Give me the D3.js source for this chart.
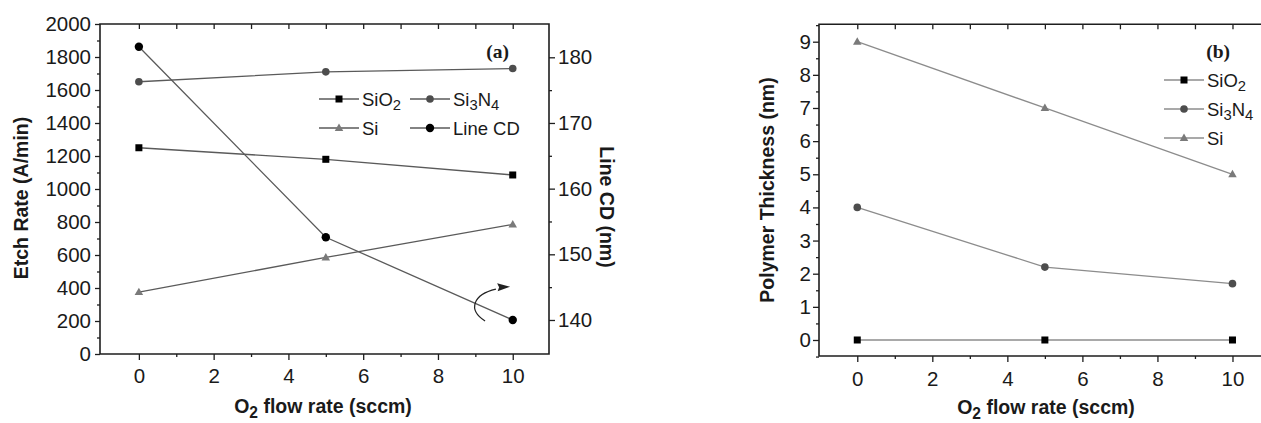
<!DOCTYPE html>
<html><head><meta charset="utf-8">
<script src="https://cdn.jsdelivr.net/npm/d3@7"></script>
<style>
body{margin:0;background:#fff}
svg{display:block}
text{font-family:"Liberation Sans",Arial,Helvetica,sans-serif;fill:#1a1a1a}
</style>
</head><body>
<svg id="chart" width="1261" height="423"></svg>
<script>
// O2 flow rate (sccm) at each measured point
const flow = [0, 5, 10];
// (a) etch rate, A/min
const etchSiO2 = [1250, 1180, 1085];
const etchSi3N4 = [1650, 1710, 1730];
const etchSi = [375, 585, 785];
// (a) line critical dimension, nm
const lineCD = [181.6, 152.6, 140];
// (b) polymer thickness, nm
const polySiO2 = [0, 0, 0];
const polySi3N4 = [4, 2.2, 1.7];
const polySi = [9, 7, 5];
// tick values
const flowTicks = [0, 2, 4, 6, 8, 10];
const flowMinor = [1, 3, 5, 7, 9];
const flowTop = d3.range(0, 11);
const etchTicks = d3.range(0, 2001, 200);
const etchMinor = d3.range(100, 2000, 200);
const cdTicks = [140, 150, 160, 170, 180];
const cdMinor = [145, 155, 165, 175];
const thickTicks = d3.range(0, 10);
const thickMinor = d3.range(-0.5, 9.6, 1);

const svg = d3.select("#chart");
const AX = "#1e1e1e";
const TICK_FONT = 20.5;

function rich(sel, parts, size) {
  let down = false;
  parts.forEach(p => {
    const ts = sel.append("tspan").text(p.t);
    if (p.sub) {
      ts.attr("font-size", size * 0.8).attr("dy", down ? 0 : size * 0.27);
      down = true;
    } else {
      ts.attr("dy", down ? -size * 0.27 : 0);
      down = false;
    }
  });
}

function styleAxis(g) {
  g.select(".domain").remove();
  g.selectAll("line").attr("stroke", AX).attr("stroke-width", 1.3);
  g.selectAll("text").attr("font-size", TICK_FONT).attr("fill", "#1a1a1a")
    .style("font-family", '"Liberation Sans",Arial,sans-serif');
}

function marker(g, type, cx, cy, fill) {
  if (type === "square") {
    g.append("rect").attr("x", cx - 3.5).attr("y", cy - 3.5).attr("width", 7).attr("height", 7).attr("fill", fill);
  } else if (type === "circle") {
    g.append("circle").attr("cx", cx).attr("cy", cy).attr("r", 3.8).attr("fill", fill);
  } else if (type === "bigcircle") {
    g.append("circle").attr("cx", cx).attr("cy", cy).attr("r", 4.2).attr("fill", fill);
  } else {
    const s = 8.5, h = s * 0.87;
    g.append("path").attr("d", `M${cx},${cy - h * 0.6}L${cx + s / 2},${cy + h * 0.4}L${cx - s / 2},${cy + h * 0.4}Z`).attr("fill", fill);
  }
}

function series(g, xs, ys, sx, sy, type, lineColor, fill) {
  const line = d3.line().x((d, i) => sx(xs[i])).y(d => sy(d));
  g.append("path").attr("d", line(ys)).attr("fill", "none").attr("stroke", lineColor).attr("stroke-width", 1.3);
  ys.forEach((v, i) => marker(g, type, sx(xs[i]), sy(v), fill));
}

function legendRow(g, x, y, type, lineColor, fill, parts, size) {
  g.append("line").attr("x1", x).attr("x2", x + 40).attr("y1", y).attr("y2", y).attr("stroke", lineColor).attr("stroke-width", 1.3);
  marker(g, type, x + 20, y, fill);
  const t = g.append("text").attr("x", x + 43).attr("y", y + 6.5).attr("font-size", size);
  rich(t, parts, size);
}

function frame(g, L, R, T, B) {
  g.append("path").attr("d", `M${L},${T}H${R}V${B}H${L}Z`).attr("fill", "none").attr("stroke", AX).attr("stroke-width", 1.6);
}

function xTitle(g, cx, y) {
  const t = g.append("text").attr("x", cx).attr("y", y).attr("text-anchor", "middle")
    .attr("font-size", 19.5).attr("font-weight", "bold");
  rich(t, [{t: "O"}, {t: "2", sub: true}, {t: " flow rate (sccm)"}], 19.5);
}

function yTitle(g, cx, cy, angle, str) {
  g.append("text").attr("transform", `translate(${cx},${cy}) rotate(${angle})`)
    .attr("text-anchor", "middle").attr("dy", "0.36em")
    .attr("font-size", 19.5).attr("font-weight", "bold").text(str);
}

// ---------- (a) Etch rate and line CD ----------
{
  const L = 100, R = 549, T = 24, B = 354;
  const x = d3.scaleLinear().domain([-1.04, 10.97]).range([L, R]);
  const y = d3.scaleLinear().domain([0, 2000]).range([B, T]);
  const y2 = d3.scaleLinear().domain([134.82, 185.07]).range([B, T]);
  const g = svg.append("g");

  g.append("g").attr("transform", `translate(0,${B})`)
    .call(d3.axisBottom(x).tickValues(flowTicks).tickSize(6).tickPadding(8).tickFormat(d3.format("d"))).call(styleAxis);
  g.append("g").attr("transform", `translate(0,${B})`)
    .call(d3.axisBottom(x).tickValues(flowMinor).tickSize(3).tickFormat("")).call(styleAxis);
  g.append("g").attr("transform", `translate(0,${T})`)
    .call(d3.axisTop(x).tickValues(flowTop).tickSize(-5).tickFormat("")).call(styleAxis);
  g.append("g").attr("transform", `translate(${L},0)`)
    .call(d3.axisLeft(y).tickValues(etchTicks).tickSize(5).tickPadding(4).tickFormat(d3.format("d"))).call(styleAxis);
  g.append("g").attr("transform", `translate(${L},0)`)
    .call(d3.axisLeft(y).tickValues(etchMinor).tickSize(3).tickFormat("")).call(styleAxis);
  g.append("g").attr("transform", `translate(${R},0)`)
    .call(d3.axisRight(y2).tickValues(cdTicks).tickSize(6).tickPadding(3).tickFormat(d3.format("d"))).call(styleAxis);
  g.append("g").attr("transform", `translate(${R},0)`)
    .call(d3.axisRight(y2).tickValues(cdMinor).tickSize(3).tickFormat("")).call(styleAxis);
  frame(g, L, R, T, B);

  const lc = "#5a5a5a";
  series(g, flow, etchSiO2, x, y, "square", lc, "#000");
  series(g, flow, etchSi3N4, x, y, "circle", lc, "#4d4d4d");
  series(g, flow, etchSi, x, y, "triangle", lc, "#7a7a7a");
  series(g, flow, lineCD, x, y2, "bigcircle", lc, "#000");

  // curved arrow pointing to the right-hand (Line CD) axis
  const arrowPts = [[9.26, 139.85], [8.78, 141.6], [8.95, 143.9], [9.55, 144.7]];
  const ap = arrowPts.map(p => [x(p[0]), y2(p[1])]);
  g.append("path")
    .attr("d", `M${ap[0][0]},${ap[0][1]}C${ap[1][0]},${ap[1][1]} ${ap[2][0]},${ap[2][1]} ${ap[3][0]},${ap[3][1]}`)
    .attr("fill", "none").attr("stroke", "#222").attr("stroke-width", 1.2);
  const tip = [x(9.93), y2(145.05)];
  g.append("path")
    .attr("d", `M${tip[0]},${tip[1]}L${tip[0] - 13},${tip[1] - 3.5}L${tip[0] - 11},${tip[1] + 0.5}L${tip[0] - 12.5},${tip[1] + 4.5}Z`)
    .attr("fill", "#222");

  g.append("text").attr("x", 509).attr("y", 58).attr("text-anchor", "end")
    .attr("font-size", 19.5).attr("font-weight", "bold").style("font-family", '"Liberation Serif","Times New Roman",serif').text("(a)");

  const LS = 18.5;
  legendRow(g, 319, 99, "square", lc, "#000", [{t: "SiO"}, {t: "2", sub: true}], LS);
  legendRow(g, 410, 99, "circle", lc, "#4d4d4d", [{t: "Si"}, {t: "3", sub: true}, {t: "N"}, {t: "4", sub: true}], LS);
  legendRow(g, 319, 128, "triangle", lc, "#7a7a7a", [{t: "Si"}], LS);
  legendRow(g, 410, 128, "bigcircle", lc, "#000", [{t: "Line CD"}], LS);

  xTitle(g, 323, 413);
  yTitle(g, 21, 198, -90, "Etch Rate (A/min)");
  yTitle(g, 607, 207, 90, "Line CD (nm)");
}

// ---------- (b) Polymer thickness ----------
{
  const L = 819, R = 1270, T = 24.3, B = 356;
  const x = d3.scaleLinear().domain([-1.02, 11]).range([L, R]);
  const y = d3.scaleLinear().domain([-0.483, 9.525]).range([B, T]);
  const g = svg.append("g");

  g.append("g").attr("transform", `translate(0,${B})`)
    .call(d3.axisBottom(x).tickValues(flowTicks).tickSize(6).tickPadding(9).tickFormat(d3.format("d"))).call(styleAxis);
  g.append("g").attr("transform", `translate(0,${B})`)
    .call(d3.axisBottom(x).tickValues(flowMinor).tickSize(3).tickFormat("")).call(styleAxis);
  g.append("g").attr("transform", `translate(0,${T})`)
    .call(d3.axisTop(x).tickValues(flowTop).tickSize(-5).tickFormat("")).call(styleAxis);
  g.append("g").attr("transform", `translate(${L},0)`)
    .call(d3.axisLeft(y).tickValues(thickTicks).tickSize(6).tickPadding(2).tickFormat(d3.format("d"))).call(styleAxis);
  g.append("g").attr("transform", `translate(${L},0)`)
    .call(d3.axisLeft(y).tickValues(thickMinor).tickSize(3).tickFormat("")).call(styleAxis);
  frame(g, L, R, T, B);

  const lc = "#8c8c8c";
  series(g, flow, polySiO2, x, y, "square", lc, "#000");
  series(g, flow, polySi3N4, x, y, "circle", lc, "#4d4d4d");
  series(g, flow, polySi, x, y, "triangle", lc, "#7a7a7a");

  g.append("text").attr("x", 1230).attr("y", 58).attr("text-anchor", "end")
    .attr("font-size", 19.5).attr("font-weight", "bold").style("font-family", '"Liberation Serif","Times New Roman",serif').text("(b)");

  const LS = 18.5;
  legendRow(g, 1164, 80, "square", lc, "#000", [{t: "SiO"}, {t: "2", sub: true}], LS);
  legendRow(g, 1164, 109, "circle", lc, "#4d4d4d", [{t: "Si"}, {t: "3", sub: true}, {t: "N"}, {t: "4", sub: true}], LS);
  legendRow(g, 1164, 138, "triangle", lc, "#7a7a7a", [{t: "Si"}], LS);

  xTitle(g, 1046, 414);
  yTitle(g, 767, 190, -90, "Polymer Thickness (nm)");
}
</script>
</body></html>
